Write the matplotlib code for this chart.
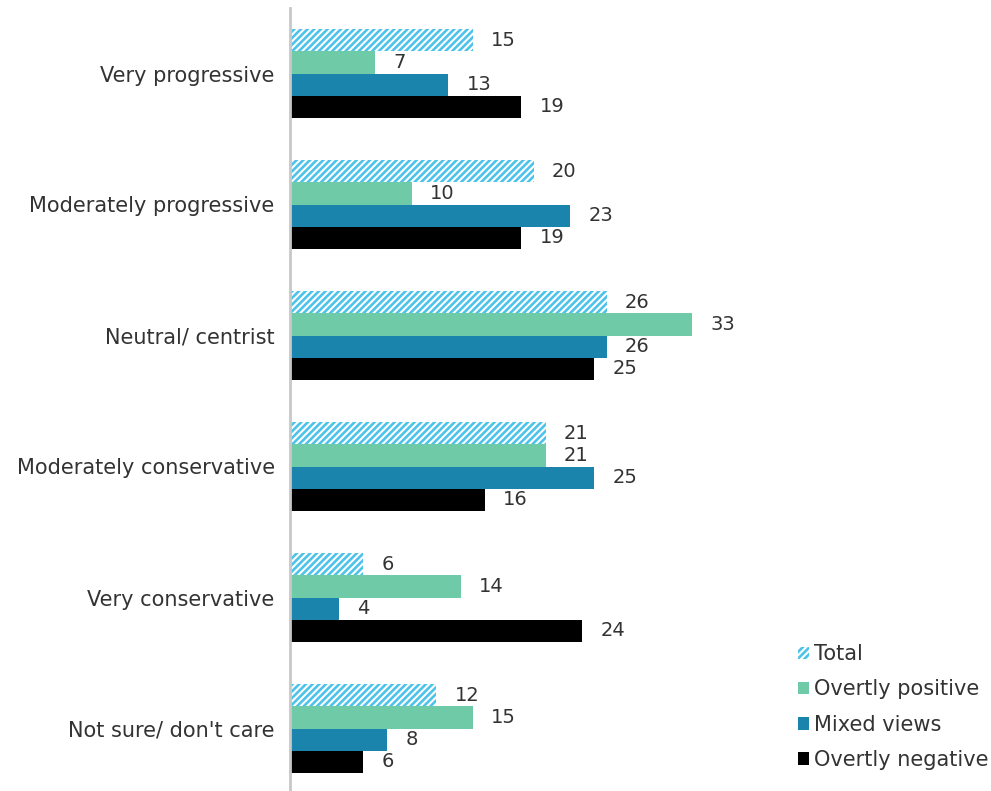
import matplotlib
matplotlib.use("Agg")
import matplotlib.pyplot as plt
import numpy as np
from matplotlib.patches import Patch

plt.rcParams['font.family'] = ['DejaVu Sans']
plt.rcParams['hatch.linewidth'] = 1.5
plt.rcParams['hatch.color'] = 'white'

categories = ["Very progressive", "Moderately progressive", "Neutral/ centrist",
              "Moderately conservative", "Very conservative", "Not sure/ don't care"]
series_names = ["Total", "Overtly positive", "Mixed views", "Overtly negative"]
total = [15, 20, 26, 21, 6, 12]
positive = [7, 10, 33, 21, 14, 15]
mixed = [13, 23, 26, 25, 4, 8]
negative = [19, 19, 25, 16, 24, 6]

colors = ["#4DC3EA", "#6FCBA7", "#1A84AD", "#000000"]
text_color = "#333333"
fs = 15
fs_val = 14

W, H = 991, 791
fig = plt.figure(figsize=(W / 100, H / 100), dpi=100)
ax = fig.add_axes([290 / W, -3 / H, 470 / W, 786 / H])

n = len(categories)
y = np.arange(n)
bh = 0.17
offsets = [-1.5 * bh, -0.5 * bh, 0.5 * bh, 1.5 * bh]
data = [total, positive, mixed, negative]

for i, (vals, col, name) in enumerate(zip(data, colors, series_names)):
    if i == 0:
        bars = ax.barh(y + offsets[i], vals, height=bh, color=col, edgecolor='white',
                       hatch='/////', linewidth=0, label=name)
    else:
        bars = ax.barh(y + offsets[i], vals, height=bh, color=col, linewidth=0, label=name)
    for b, v in zip(bars, vals):
        ax.text(b.get_width() + 1.5, b.get_y() + b.get_height() / 2, str(v),
                va='center', ha='left', fontsize=fs_val, color=text_color)

ax.set_xlim(0, 470 / 12.18)
ax.set_ylim(n - 0.5, -0.5)
ax.set_yticks(y)
ax.set_yticklabels(categories, fontsize=fs, color=text_color)
ax.tick_params(axis='y', length=0, pad=11)
ax.set_xticks([])
for s in ['top', 'right', 'bottom']:
    ax.spines[s].set_visible(False)
ax.spines['left'].set_color('#C8C8C8')
ax.spines['left'].set_linewidth(2)

handles = [Patch(facecolor=colors[0], edgecolor='white', hatch='/////', linewidth=0),
           Patch(facecolor=colors[1]), Patch(facecolor=colors[2]), Patch(facecolor=colors[3])]
leg = fig.legend(handles, series_names, loc='lower right', bbox_to_anchor=(1.016, 0.003),
                 frameon=False, fontsize=fs, handlelength=0.55, handleheight=0.55,
                 handletextpad=0.2, labelspacing=0.73, labelcolor=text_color)

fig.savefig("out.png", dpi=100)
